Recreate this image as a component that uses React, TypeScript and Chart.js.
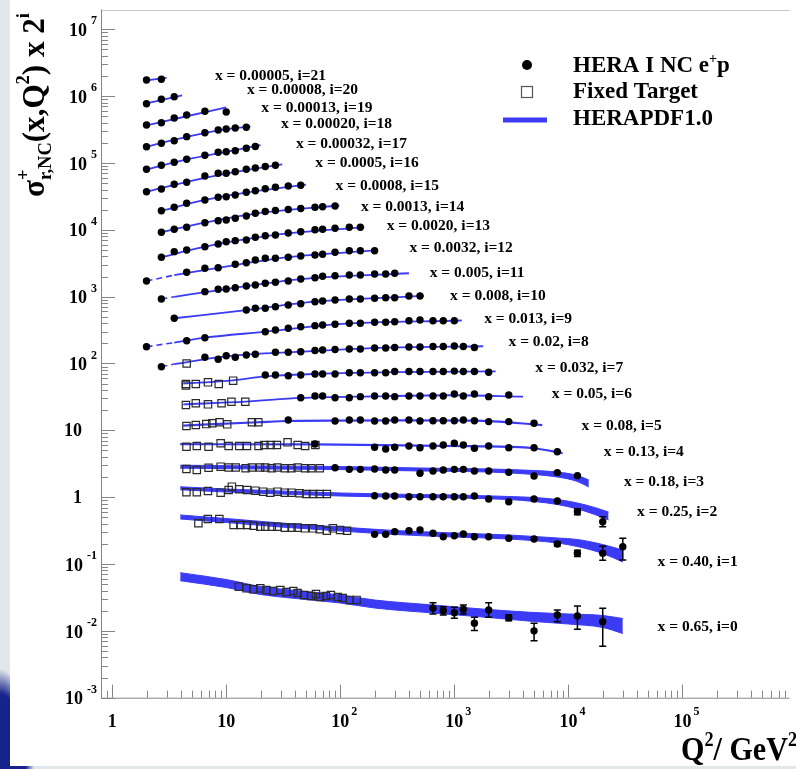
import { useEffect, useRef } from "react";
import { Chart, registerables } from "chart.js";

Chart.register(...registerables);

const SERIF = '"Liberation Serif", "Times New Roman", Times, serif';
const BLUE = "#3b3bf6";

// Axis ranges (Q^2 in GeV^2, plotted value = sigma_r * 2^i)
const X_MIN = 0.798;
const X_MAX = 8.7e5;
const Y_MIN = 1e-3;
const Y_MAX = 1.977e7;

const xMajor = [1, 10, 100, 1e3, 1e4, 1e5];
const xMajorText: [string, string][] = [["1", ""], ["10", ""], ["10", "2"], ["10", "3"], ["10", "4"], ["10", "5"]];
const yMajor = [1e-3, 1e-2, 0.1, 1, 10, 100, 1e3, 1e4, 1e5, 1e6, 1e7];
const yMajorText: [string, string][] = [["10", "-3"], ["10", "-2"], ["10", "-1"], ["1", ""], ["10", ""], ["10", "2"], ["10", "3"], ["10", "4"], ["10", "5"], ["10", "6"], ["10", "7"]];

// Bjorken-x of each bin, index = i
const binX = ["0.65", "0.40", "0.25", "0.18", "0.13", "0.08", "0.05", "0.032", "0.02", "0.013", "0.008", "0.005", "0.0032", "0.0020", "0.0013", "0.0008", "0.0005", "0.00032", "0.00020", "0.00013", "0.00008", "0.00005"];

// anchor (Q2, value) of each bin label
const labelQ2 = [60530, 60530, 40000, 30660, 20390, 13050, 7161, 5128, 2987, 1826, 917, 608, 404, 255, 151.6, 90.9, 60.4, 40.8, 30.2, 20.3, 15.2, 7.96];
const labelVal = [0.0113, 0.1083, 0.594, 1.704, 4.69, 11.73, 34.97, 84.8, 212, 458.3, 1023, 2237, 5290, 11410, 22180, 45700, 98900, 192300, 383000, 665000, 1236000, 2000000];

// HERA I NC e+p points
const heraQ2: number[][] = [
  [650, 800, 1000, 1200, 1500, 2000, 3000, 5000, 8000, 12000, 20000],
  [200, 250, 300, 400, 500, 650, 800, 1000, 1200, 1500, 2000, 3000, 5000, 8000, 12000, 20000, 30000],
  [200, 250, 300, 400, 500, 650, 800, 1000, 1200, 1500, 2000, 3000, 5000, 8000, 12000, 20000],
  [90, 120, 150, 200, 250, 300, 500, 650, 800, 1000, 1200, 1500, 2000, 3000, 5000, 8000, 12000],
  [60, 200, 250, 300, 400, 500, 650, 800, 1000, 1200, 1500, 2000, 3000, 5000, 8000],
  [35, 90, 120, 150, 200, 250, 300, 400, 500, 650, 800, 1000, 1200, 1500, 2000, 3000, 5000],
  [45, 60, 70, 90, 120, 150, 200, 250, 300, 400, 500, 650, 800, 1000, 1200, 1500, 2000, 3000],
  [22, 27, 35, 45, 60, 70, 90, 120, 150, 200, 250, 300, 400, 500, 650, 800, 1000, 1200, 1500, 2000],
  [2.7, 6.5, 8.5, 10, 12, 15, 18, 27, 35, 45, 60, 70, 90, 120, 150, 200, 250, 300, 400, 500, 650, 800, 1000, 1200, 1500],
  [2, 4.5, 6.5, 22, 27, 35, 45, 60, 70, 90, 120, 150, 200, 250, 300, 400, 500, 650, 800, 1000],
  [3.5, 15, 18, 22, 27, 35, 45, 60, 70, 90, 120, 150, 200, 250, 300, 400, 500],
  [2.7, 6.5, 8.5, 10, 12, 15, 18, 22, 27, 35, 45, 60, 70, 90, 120, 150, 200, 250, 300],
  [2, 4.5, 6.5, 8.5, 12, 15, 18, 22, 27, 35, 45, 60, 70, 90, 120, 150, 200],
  [2.7, 3.5, 4.5, 6.5, 8.5, 10, 12, 15, 18, 22, 27, 35, 45, 60, 70, 90, 120, 150],
  [2.7, 3.5, 4.5, 6.5, 8.5, 10, 12, 15, 18, 22, 27, 35, 45, 60, 70, 90],
  [2.7, 3.5, 4.5, 6.5, 8.5, 10, 12, 15, 18, 22, 27, 35, 45],
  [2, 2.7, 3.5, 4.5, 6.5, 8.5, 10, 12, 15, 18, 22, 27],
  [2, 2.7, 3.5, 4.5, 6.5, 8.5, 10, 12, 15, 18],
  [2, 2.7, 3.5, 4.5, 6.5, 8.5, 10, 12, 15],
  [2, 2.7, 3.5, 4.5, 6.5, 10],
  [2, 2.7, 3.5],
  [2, 2.7],
];
const heraVal: number[][] = [
  [0.0218, 0.02, 0.0187, 0.021, 0.013, 0.0205, 0.0157, 0.01, 0.0173, 0.0167, 0.0137],
  [0.278, 0.278, 0.305, 0.315, 0.323, 0.288, 0.256, 0.265, 0.281, 0.256, 0.256, 0.243, 0.237, 0.199, 0.145, 0.145, 0.182],
  [1.052, 1.041, 1.041, 1.017, 1.017, 1.017, 1.017, 1.017, 1.017, 1.041, 0.939, 0.856, 0.939, 0.877, 0.606, 0.43],
  [2.76, 2.61, 2.61, 2.64, 2.55, 2.55, 2.28, 2.47, 2.55, 2.61, 2.61, 2.47, 2.47, 2.36, 2.07, 2.33, 2.1],
  [6.25, 5.58, 5.26, 5.58, 5.83, 5.5, 5.83, 6.03, 6.4, 6.03, 5.39, 5.83, 5.5, 5.5, 4.79],
  [14.3, 13.8, 14.3, 14.3, 13.8, 13.8, 14.3, 14.3, 13.8, 13.9, 13.9, 13.9, 14.3, 13.9, 13.5, 13.5, 12.75],
  [30.8, 32.6, 32.6, 30.8, 30.8, 31.9, 32.6, 32.6, 31.9, 32.6, 32.6, 32.6, 32.6, 35.0, 32.6, 35.0, 31.9, 33.8],
  [67.3, 67.3, 65.7, 67.3, 69.7, 69.7, 69.7, 72.8, 72.8, 72.8, 72.8, 75.9, 75.9, 75.9, 75.9, 75.9, 77.0, 75.9, 75.9, 74.0],
  [89.6, 123.8, 115.6, 130.8, 123.8, 134, 137.3, 147.1, 147.1, 150.2, 156.5, 159.2, 162, 164.8, 164.8, 170.6, 170.6, 173.6, 176.6, 176.6, 179.6, 179.6, 182.7, 179.6, 173.6],
  [178, 219, 243, 299, 317, 336, 355, 368, 377, 386, 399, 399, 413, 413, 422, 437, 448, 437, 437, 437],
  [475, 632, 670, 670, 708, 750, 785, 840, 861, 891, 923, 923, 945, 965, 965, 1023, 1023],
  [923, 1187, 1289, 1302, 1361, 1443, 1494, 1585, 1640, 1715, 1838, 1921, 2017, 2058, 2109, 2109, 2183, 2183, 2237],
  [1715, 2315, 2657, 2713, 3050, 3222, 3535, 3749, 3749, 3880, 4057, 4200, 4302, 4610, 4870, 4870, 4870],
  [3880, 4710, 4990, 5590, 6140, 6640, 6880, 7040, 7730, 8170, 8370, 8970, 9370, 10040, 10180, 10540, 10910, 10910],
  [9180, 10180, 10910, 12780, 13690, 14030, 14870, 16100, 17670, 18800, 19450, 20140, 20850, 21730, 22180, 22720],
  [19320, 21730, 24940, 27930, 30660, 31300, 33180, 36400, 38500, 41200, 43300, 45200, 46300],
  [37180, 40800, 48000, 51400, 63900, 70100, 70100, 74000, 80400, 84100, 88600, 92300],
  [80400, 92300, 102400, 113500, 130300, 144500, 147500, 152700, 165800, 176400],
  [175200, 197000, 215400, 247400, 283800, 311400, 322400, 333700, 341800],
  [370000, 400000, 471000, 522000, 593000, 579000],
  [771000, 897000, 981000],
  [1744000, 1786000],
];

// error bars on HERA points (Q2, low, high)
const errQ2 = [650, 800, 1000, 1200, 1500, 2000, 3000, 5000, 8000, 12000, 20000, 8000, 12000, 20000, 30000, 12000, 20000];
const errLo = [0.0179, 0.0173, 0.0154, 0.0179, 0.0101, 0.016, 0.0142, 0.0071, 0.0137, 0.0106, 0.0059, 0.186, 0.13, 0.114, 0.115, 0.546, 0.362];
const errHi = [0.0264, 0.023, 0.0225, 0.0244, 0.016, 0.0264, 0.0173, 0.013, 0.0205, 0.0235, 0.0218, 0.213, 0.16, 0.184, 0.2425, 0.672, 0.511];

// Fixed target points
const ftQ2: number[][] = [
  [12.9, 15.1, 17.3, 19.9, 22.5, 25.8, 29.8, 33.6, 38.7, 42.3, 48.2, 55.4, 61.2, 66.4, 74.8, 82.7, 95.1, 105, 121, 139],
  [5.7, 6.9, 8.7, 11.6, 13.3, 15.2, 17.4, 19.9, 22, 25.1, 28.1, 32.7, 37.4, 42.3, 48.9, 57.7, 66, 76.3, 86.1, 99.6, 114.6],
  [4.48, 5.52, 6.92, 8.94, 10.5, 11.2, 13, 15.2, 18, 21.1, 24.3, 28.2, 32.6, 37.3, 43.9, 50.4, 57.7, 66, 76.3],
  [4.48, 5.52, 7, 8.94, 10.5, 12.1, 14.8, 16.8, 19.8, 22, 25, 28.1, 32.6, 37.3, 42.3, 49.2, 55.7, 66.1],
  [4.48, 5.52, 7, 8.94, 10.5, 13, 15.2, 19.2, 21.6, 24.5, 27.8, 34.5, 42.3, 49.2, 60.5],
  [4.48, 5.41, 6.69, 7.54, 8.74, 10.2, 16.8, 19.1],
  [4.43, 5.41, 6.92, 9.1, 11.1, 14.7],
  [4.43, 4.43, 5.41, 6.92, 8.6, 11.5],
  [4.5],
];
const ftVal: number[][] = [
  [0.0458, 0.0433, 0.0418, 0.0433, 0.0409, 0.0395, 0.0409, 0.0381, 0.0395, 0.0368, 0.0344, 0.0332, 0.0356, 0.0321, 0.0332, 0.0344, 0.0321, 0.031, 0.029, 0.029],
  [0.407, 0.472, 0.472, 0.384, 0.384, 0.384, 0.374, 0.362, 0.362, 0.362, 0.362, 0.35, 0.35, 0.35, 0.342, 0.342, 0.331, 0.315, 0.342, 0.323, 0.315],
  [1.183, 1.183, 1.237, 1.167, 1.28, 1.435, 1.312, 1.28, 1.25, 1.208, 1.167, 1.208, 1.167, 1.167, 1.143, 1.116, 1.116, 1.116, 1.116],
  [2.64, 2.55, 2.76, 2.86, 2.78, 2.78, 2.71, 2.78, 2.78, 2.78, 2.71, 2.78, 2.71, 2.71, 2.78, 2.71, 2.71, 2.71],
  [5.69, 5.83, 5.69, 6.4, 5.83, 5.83, 5.83, 5.83, 6.03, 6.03, 6.03, 6.62, 6.03, 5.83, 6.03],
  [11.6, 12.0, 12.4, 12.75, 13.2, 12.3, 13.2, 13.2],
  [23.9, 25.4, 24.5, 25.4, 26.8, 26.8],
  [49.3, 46.9, 49.3, 52.3, 49.3, 55.3],
  [100],
];

// HERAPDF1.0 central curves (i = 4..21)
const pdfQ2: number[][] = [
  [], [], [], [],
  [3.95, 60, 500, 2000, 5000, 8900],
  [4.2, 19, 35, 300, 1500, 5900],
  [4.2, 14.7, 45, 200, 1000, 4000],
  [4.2, 11.5, 22, 60, 300, 2300],
  [3.5, 10, 45, 300, 1790],
  [3.5, 6.5, 22, 90, 1160],
  [3.5, 15, 60, 540],
  [3.5, 10, 45, 400],
  [3.5, 8.5, 35, 210],
  [2.7, 6.5, 27, 162],
  [2.7, 6.5, 18, 98],
  [2.7, 6.5, 15, 50],
  [2, 4.5, 10, 31],
  [2, 4.5, 10, 20],
  [2, 4.5, 10, 16.3],
  [2, 4.5, 10],
  [2, 4.1],
  [2, 3.0],
];
const pdfVal: number[][] = [
  [], [], [], [],
  [6.2, 6.15, 5.9, 5.75, 5.4, 4.55],
  [11.8, 13.2, 13.8, 14.1, 14.0, 12.0],
  [24.5, 26.8, 30.5, 32.3, 33.5, 31.9],
  [50, 56, 64, 69.7, 74.5, 76],
  [98, 128, 150, 174, 181],
  [205, 243, 299, 386, 440],
  [475, 630, 840, 1025],
  [995, 1300, 1830, 2240],
  [2100, 2700, 3900, 4950],
  [3900, 5600, 8400, 11000],
  [9200, 12800, 17500, 23100],
  [19300, 28000, 36000, 47600],
  [37000, 52000, 69000, 95000],
  [80000, 113000, 147000, 185000],
  [175000, 245000, 320000, 351000],
  [364000, 500000, 680000],
  [780000, 1030000],
  [1720000, 1870000],
];

// extrapolation below Q2min (dashed), bins 8, 9, 11, 12
const dashBins = [8, 9, 11, 12];
const dashQ2: number[][] = [[2.7, 3.5], [2, 3.5], [2.7, 3.5], [2, 3.5]];
const dashVal: number[][] = [[89.6, 98], [178, 205], [923, 995], [1715, 2100]];

// HERAPDF1.0 uncertainty bands (i = 0..3)
const bandQ2: number[][] = [
  [3.95, 10, 20, 50, 100, 200, 650, 2000, 5000, 10000, 20000, 30000],
  [3.95, 10, 30, 100, 300, 1000, 3000, 8000, 12000, 20000, 30000],
  [3.95, 10, 30, 100, 300, 1000, 3000, 5000, 8000, 12000, 17000, 22500],
  [3.95, 20, 90, 500, 2000, 5000, 8000, 12000, 15100],
];
const bandLo: number[][] = [
  [0.05628, 0.04453, 0.03499, 0.02945, 0.0261, 0.02198, 0.0185, 0.01584, 0.0138, 0.01267, 0.01123, 0.00913],
  [0.4717, 0.4181, 0.3581, 0.3119, 0.2765, 0.2537, 0.2367, 0.2063, 0.1828, 0.1437, 0.1072],
  [1.289, 1.195, 1.116, 1.041, 0.999, 0.972, 0.923, 0.862, 0.777, 0.666, 0.551, 0.456],
  [2.714, 2.641, 2.595, 2.465, 2.381, 2.185, 2.004, 1.717, 1.42],
];
const bandHi: number[][] = [
  [0.07417, 0.05866, 0.04609, 0.0388, 0.03438, 0.02895, 0.02436, 0.02087, 0.01883, 0.01788, 0.01698, 0.0153],
  [0.5414, 0.4797, 0.4111, 0.3581, 0.3173, 0.2911, 0.2718, 0.2451, 0.2327, 0.1959, 0.1621],
  [1.43, 1.326, 1.237, 1.155, 1.108, 1.078, 1.024, 0.989, 0.923, 0.818, 0.701, 0.6],
  [3.009, 2.927, 2.877, 2.733, 2.641, 2.507, 2.381, 2.111, 1.807],
];

type Part = { t: string; s: number; dy: number; stack?: boolean };

function partsWidth(ctx: CanvasRenderingContext2D, parts: Part[]) {
  let w = 0;
  let pend = 0;
  for (const p of parts) {
    ctx.font = `bold ${p.s}px ${SERIF}`;
    const pw = ctx.measureText(p.t).width;
    if (p.stack) pend = Math.max(pend, pw);
    else {
      w += Math.max(pend, pw);
      pend = 0;
    }
  }
  return w + pend;
}

function drawParts(ctx: CanvasRenderingContext2D, x: number, y: number, parts: Part[]) {
  let cx = x;
  let pend = 0;
  ctx.textAlign = "left";
  for (const p of parts) {
    ctx.font = `bold ${p.s}px ${SERIF}`;
    const pw = ctx.measureText(p.t).width;
    ctx.fillText(p.t, cx, y + p.dy);
    if (p.stack) pend = Math.max(pend, pw);
    else {
      cx += Math.max(pend, pw);
      pend = 0;
    }
  }
}

const decorPlugin = {
  id: "decor",
  beforeDraw(chart: any) {
    const ctx: CanvasRenderingContext2D = chart.ctx;
    ctx.save();
    ctx.fillStyle = "#ffffff";
    ctx.fillRect(10, 0, chart.width - 10, 766);
    ctx.restore();
  },
  afterDatasetsDraw(chart: any) {
    const ctx: CanvasRenderingContext2D = chart.ctx;
    const xs = chart.scales.x;
    const ys = chart.scales.y;
    ctx.save();
    ctx.strokeStyle = "#000";
    ctx.lineWidth = 1.5;
    ctx.beginPath();
    errQ2.forEach((q, k) => {
      const px = xs.getPixelForValue(q);
      const y1 = ys.getPixelForValue(errLo[k]);
      const y2 = ys.getPixelForValue(errHi[k]);
      ctx.moveTo(px, y1);
      ctx.lineTo(px, y2);
      ctx.moveTo(px - 3.5, y1);
      ctx.lineTo(px + 3.5, y1);
      ctx.moveTo(px - 3.5, y2);
      ctx.lineTo(px + 3.5, y2);
    });
    ctx.stroke();
    ctx.restore();
  },
  afterDraw(chart: any) {
    const ctx: CanvasRenderingContext2D = chart.ctx;
    const { left, right, top, bottom } = chart.chartArea;
    const xs = chart.scales.x;
    const ys = chart.scales.y;
    ctx.save();

    // frame and axes
    ctx.lineWidth = 1;
    ctx.strokeStyle = "#c4c4c4";
    ctx.beginPath();
    ctx.moveTo(left, Math.round(top) + 0.5);
    ctx.lineTo(right, Math.round(top) + 0.5);
    ctx.stroke();
    ctx.strokeStyle = "#858585";
    ctx.beginPath();
    ctx.moveTo(left + 0.5, top);
    ctx.lineTo(left + 0.5, bottom + 0.5);
    ctx.lineTo(right, bottom + 0.5);
    ctx.stroke();

    // ticks
    ctx.beginPath();
    yMajor.forEach((base) => {
      for (let m = 1; m <= 9; m++) {
        const v = base * m;
        if (v < Y_MIN * 0.999 || v > Y_MAX) continue;
        const py = Math.round(ys.getPixelForValue(v)) + 0.5;
        ctx.moveTo(left, py);
        ctx.lineTo(left + (m === 1 ? 14 : 7), py);
      }
    });
    [0.1, ...xMajor].forEach((base) => {
      for (let m = 1; m <= 9; m++) {
        const v = base * m;
        if (v < X_MIN || v > X_MAX) continue;
        const px = Math.round(xs.getPixelForValue(v)) + 0.5;
        ctx.moveTo(px, bottom);
        ctx.lineTo(px, bottom - (m === 1 ? 13 : 7));
      }
    });
    ctx.stroke();

    // tick labels
    ctx.fillStyle = "#000";
    ctx.textBaseline = "middle";
    yMajor.forEach((v, k) => {
      const py = ys.getPixelForValue(v);
      const [b, e] = yMajorText[k];
      ctx.textAlign = "right";
      if (e) {
        ctx.font = `bold 12px ${SERIF}`;
        const ew = ctx.measureText(e).width;
        ctx.fillText(e, 97, py - 8);
        ctx.font = `bold 18px ${SERIF}`;
        ctx.fillText(b, 97 - ew - 4, py + 2);
      } else {
        ctx.font = `bold 18px ${SERIF}`;
        ctx.fillText(b, 82, py + 1);
      }
    });
    xMajor.forEach((v, k) => {
      const px = xs.getPixelForValue(v);
      const [b, e] = xMajorText[k];
      ctx.font = `bold 18px ${SERIF}`;
      ctx.textAlign = "center";
      const bw = ctx.measureText(b).width;
      ctx.fillText(b, px, 722);
      if (e) {
        ctx.font = `bold 12px ${SERIF}`;
        ctx.textAlign = "left";
        ctx.fillText(e, px + bw / 2 + 2, 712);
      }
    });

    // bin labels
    ctx.font = `bold 15.5px ${SERIF}`;
    ctx.textAlign = "left";
    ctx.textBaseline = "middle";
    binX.forEach((bx, i) => {
      ctx.fillText(`x = ${bx}, i=${i}`, xs.getPixelForValue(labelQ2[i]), ys.getPixelForValue(labelVal[i]));
    });

    // legend
    ctx.beginPath();
    ctx.arc(527, 65, 5, 0, Math.PI * 2);
    ctx.fill();
    ctx.strokeStyle = "#555";
    ctx.lineWidth = 1.2;
    ctx.strokeRect(521.5, 86.5, 11, 11);
    ctx.fillStyle = BLUE;
    ctx.fillRect(503, 117.5, 44, 5);
    ctx.fillStyle = "#000";
    ctx.textBaseline = "alphabetic";
    drawParts(ctx, 573, 72, [
      { t: "HERA I NC e", s: 23, dy: 0 },
      { t: "+", s: 14, dy: -9 },
      { t: "p", s: 23, dy: 0 },
    ]);
    drawParts(ctx, 573, 98, [{ t: "Fixed Target", s: 23, dy: 0 }]);
    drawParts(ctx, 573, 125, [{ t: "HERAPDF1.0", s: 23, dy: 0 }]);

    // x title
    const xt: Part[] = [
      { t: "Q", s: 33, dy: 0 },
      { t: "2", s: 20, dy: -14 },
      { t: "/ GeV", s: 33, dy: 0 },
      { t: "2", s: 20, dy: -14 },
    ];
    const xw = partsWidth(ctx, xt);
    ctx.save();
    ctx.translate(681, 760);
    ctx.scale(116 / xw, 1);
    drawParts(ctx, 0, 0, xt);
    ctx.restore();

    // y title
    const yt: Part[] = [
      { t: "σ", s: 32, dy: 0 },
      { t: "+", s: 19, dy: -15, stack: true },
      { t: "r,NC", s: 19, dy: 7 },
      { t: "(x,Q", s: 32, dy: 0 },
      { t: "2", s: 19, dy: -15 },
      { t: ") x 2", s: 32, dy: 0 },
      { t: "i", s: 19, dy: -15 },
    ];
    const yw = partsWidth(ctx, yt);
    ctx.save();
    ctx.translate(44, 197);
    ctx.rotate(-Math.PI / 2);
    ctx.scale(184 / yw, 1);
    drawParts(ctx, 0, 0, yt);
    ctx.restore();

    ctx.restore();
  },
};

function toPts(q: number[], v: number[]) {
  return q.map((x, k) => ({ x, y: v[k] }));
}

function buildDatasets() {
  const ds: any[] = [];
  heraQ2.forEach((q, i) => {
    ds.push({
      type: "scatter",
      label: `HERA i=${i}`,
      data: toPts(q, heraVal[i]),
      pointStyle: "circle",
      pointRadius: 3.7,
      pointBorderWidth: 0,
      pointBackgroundColor: "#000",
      pointBorderColor: "#000",
      showLine: false,
      order: 0,
    });
  });
  ftQ2.forEach((q, i) => {
    ds.push({
      type: "scatter",
      label: `FT i=${i}`,
      data: toPts(q, ftVal[i]),
      pointStyle: "rect",
      pointRadius: 5.2,
      pointBorderWidth: 1.2,
      pointBackgroundColor: "rgba(0,0,0,0)",
      pointBorderColor: "#2a2a2a",
      showLine: false,
      order: 1,
    });
  });
  pdfQ2.forEach((q, i) => {
    if (!q.length) return;
    ds.push({
      type: "line",
      label: `PDF i=${i}`,
      data: toPts(q, pdfVal[i]),
      borderColor: BLUE,
      borderWidth: i <= 5 ? 2.2 : 1.8,
      pointRadius: 0,
      fill: false,
      cubicInterpolationMode: "monotone",
      order: 2,
    });
  });
  dashBins.forEach((i, k) => {
    ds.push({
      type: "line",
      label: `PDF extrap i=${i}`,
      data: toPts(dashQ2[k], dashVal[k]),
      borderColor: BLUE,
      borderWidth: 1.6,
      borderDash: [6, 4],
      pointRadius: 0,
      fill: false,
      order: 2,
    });
  });
  bandQ2.forEach((q, i) => {
    ds.push({
      type: "line",
      label: `PDF band hi i=${i}`,
      data: toPts(q, bandHi[i]),
      borderColor: BLUE,
      backgroundColor: BLUE,
      borderWidth: 1,
      pointRadius: 0,
      fill: "+1",
      cubicInterpolationMode: "monotone",
      order: 2,
    });
    ds.push({
      type: "line",
      label: `PDF band lo i=${i}`,
      data: toPts(q, bandLo[i]),
      borderColor: BLUE,
      borderWidth: 1,
      pointRadius: 0,
      fill: false,
      cubicInterpolationMode: "monotone",
      order: 2,
    });
  });
  return ds;
}

export default function App() {
  const ref = useRef<HTMLCanvasElement>(null);
  useEffect(() => {
    const canvas = ref.current;
    if (!canvas) return;
    const chart = new Chart(canvas, {
      type: "scatter",
      data: { datasets: buildDatasets() },
      options: {
        animation: false,
        responsive: false,
        devicePixelRatio: 1,
        events: [],
        layout: { padding: { left: 101, top: 9.5, right: 0, bottom: 71.3 } },
        scales: {
          x: { type: "logarithmic", min: X_MIN, max: X_MAX, display: false },
          y: { type: "logarithmic", min: Y_MIN, max: Y_MAX, display: false },
        },
        plugins: { legend: { display: false }, tooltip: { enabled: false } },
      } as any,
      plugins: [decorPlugin],
    });
    return () => chart.destroy();
  }, []);
  return (
    <div
      style={{
        position: "fixed",
        left: 0,
        top: 0,
        width: 796,
        height: 769,
        background:
          "radial-gradient(ellipse 34px 100px at 0px 769px, #16238c 0%, #16238c 75%, rgba(22,35,140,0) 100%), #e1e7eb",
      }}
    >
      <canvas ref={ref} width={796} height={769} style={{ display: "block", width: 796, height: 769 }} />
    </div>
  );
}
